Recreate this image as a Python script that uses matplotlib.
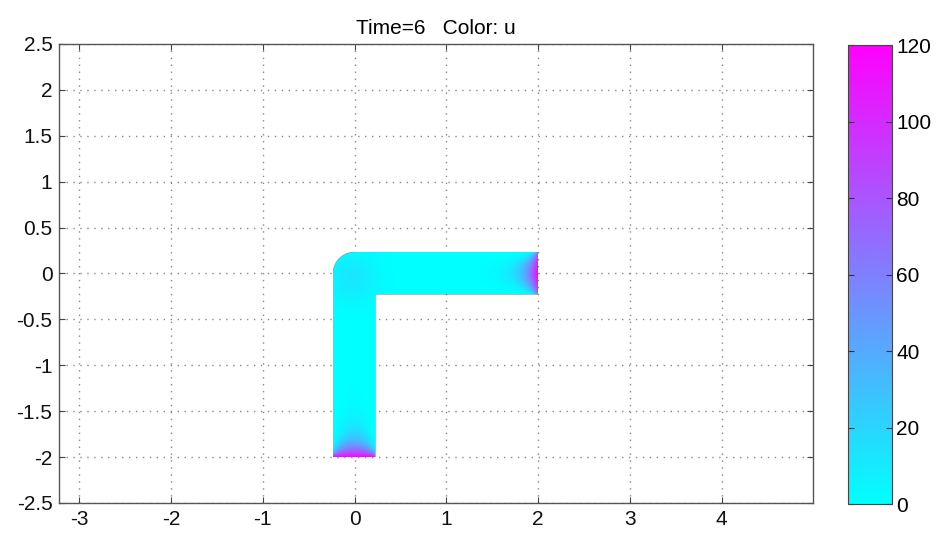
import numpy as np
import matplotlib
matplotlib.use("Agg")
import matplotlib.pyplot as plt

plt.rcParams["font.family"] = ["Liberation Sans", "DejaVu Sans"]
plt.rcParams["axes.unicode_minus"] = False

# Axis setup
x_ticks = [-3, -2, -1, 0, 1, 2, 3, 4]
y_ticks = [-2.5, -2, -1.5, -1, -0.5, 0, 0.5, 1, 1.5, 2, 2.5]
y_tick_labels = ["-2.5", "-2", "-1.5", "-1", "-0.5", "0", "0.5", "1", "1.5", "2", "2.5"]
cbar_ticks = [0, 20, 40, 60, 80, 100, 120]

# Pipe geometry (L-shaped, rounded outer bend)
half_width = 0.23
bottom_end = -2.0
right_end = 2.0

# Field values: u peaks at both open ends, small bump in the bend
u_max = 120
u_bend = 12
end_decay = [0.035, 0.11]    # base / centre decay length at bottom end
right_decay = [0.03, 0.10]   # base / centre decay length at right end

# Build the field on a fine grid
xs = np.linspace(-half_width, right_end, 900)
ys = np.linspace(bottom_end, half_width, 900)
X, Y = np.meshgrid(xs, ys)

in_vert = (np.abs(X) <= half_width) & (Y <= 0)
in_horz = (np.abs(Y) <= half_width) & (X >= 0)
in_bend = (X <= 0) & (Y >= 0) & (np.hypot(X, Y) <= half_width)
inside = in_vert | in_horz | in_bend

prof_b = np.clip(1 - (X / half_width) ** 2, 0, 1)
d_b = Y - bottom_end
u_bottom = u_max * np.exp(-d_b / (end_decay[0] + end_decay[1] * prof_b))

prof_r = np.clip(1 - (Y / half_width) ** 2, 0, 1)
d_r = right_end - X
u_right = u_max * (0.6 + 0.4 * prof_r) * np.exp(-d_r / (right_decay[0] + right_decay[1] * prof_r))

u_corner = u_bend * np.exp(-((X + 0.02) ** 2 + (Y + 0.05) ** 2) / (2 * 0.18 ** 2))

U = np.clip(u_bottom + u_right + u_corner, 0, u_max)
U = np.ma.masked_where(~inside, U)

fig = plt.figure(figsize=(9.36, 5.36), dpi=100)
ax = fig.add_axes([0.061, 0.0616, 0.8097, 0.8564])

img = ax.imshow(U, origin="lower", extent=[xs[0], xs[-1], ys[0], ys[-1]],
                cmap="cool", vmin=0, vmax=u_max, interpolation="bilinear", zorder=3)

ax.set_xlim(-3.215, 4.99)
ax.set_ylim(-2.5, 2.5)
ax.set_xticks(x_ticks)
ax.set_yticks(y_ticks)
ax.set_yticklabels(y_tick_labels)
ax.tick_params(direction="in", length=4, top=True, right=True, labelsize=15,
               color="#444444", labelcolor="#111111", pad=5)
ax.grid(True, color="#888888", linestyle=(0, (1, 4)), linewidth=1.0, zorder=0)
ax.set_axisbelow(True)
for s in ax.spines.values():
    s.set_color("#555555")
    s.set_linewidth(1.0)

ax.set_title("Time=6   Color: u", fontsize=15, pad=7)

cax = fig.add_axes([0.906, 0.0597, 0.047, 0.856])
cb = fig.colorbar(img, cax=cax, ticks=cbar_ticks)
cax.tick_params(direction="in", length=4, left=True, right=True, labelsize=15,
                color="#333333", pad=3)
cb.outline.set_edgecolor("#444444")

plt.savefig("out.png", dpi=100)
plt.close()
